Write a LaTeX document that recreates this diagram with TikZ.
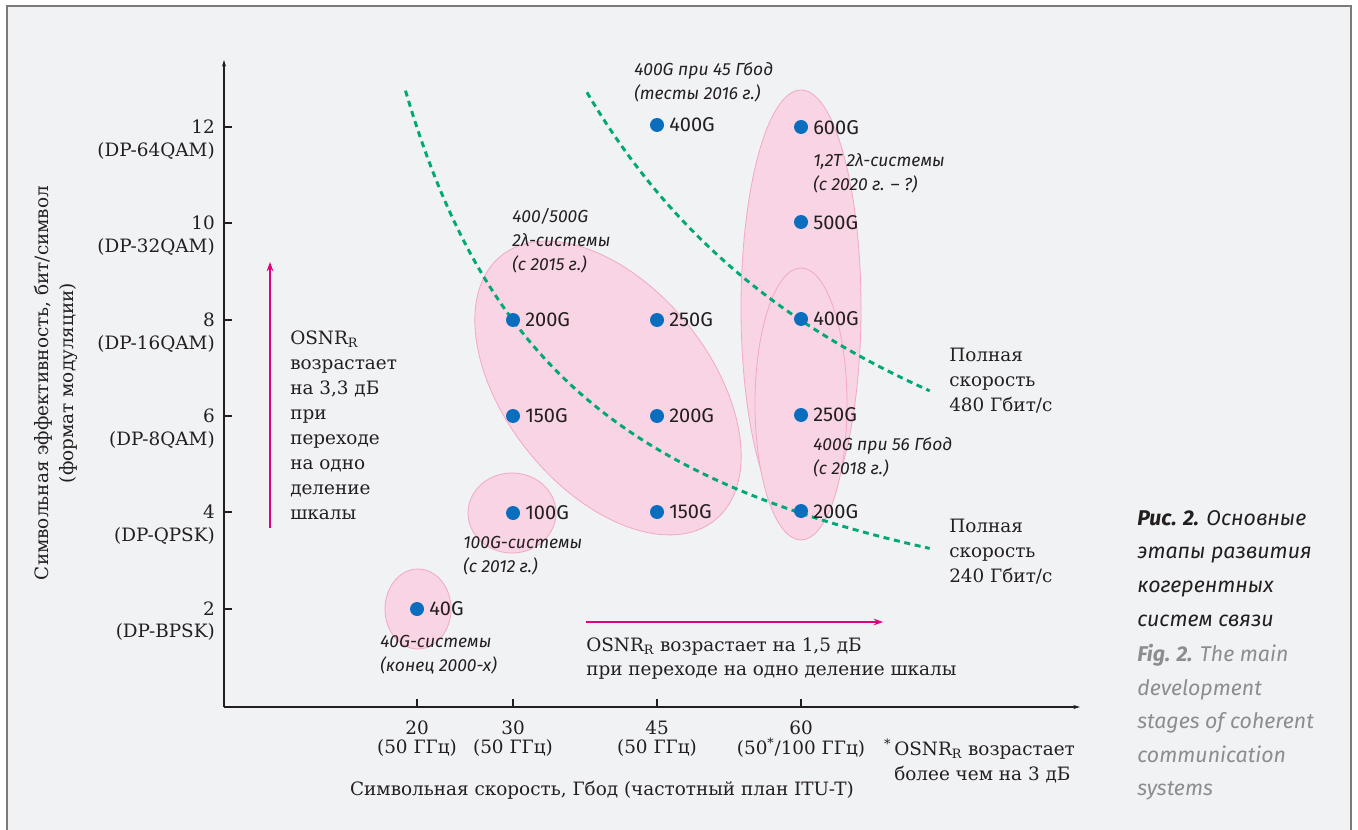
\documentclass[tikz,border=0pt]{standalone}
\usepackage{fontspec}
\setmainfont{DejaVu Serif}
\newfontfamily\lblfont{Fira Sans}
\usetikzlibrary{arrows.meta}
\definecolor{bg}{HTML}{F1F2F4}
\definecolor{framegray}{HTML}{7A7A7A}
\definecolor{pinkfill}{HTML}{F9D4E4}
\definecolor{pinkline}{HTML}{F2A7C9}
\definecolor{dotblue}{HTML}{0B6DBE}
\definecolor{ratecol}{HTML}{00A877}
\definecolor{osnrpink}{HTML}{E4007C}
\definecolor{dark}{HTML}{231F20}
\definecolor{capgray}{HTML}{8B8D8F}
\begin{document}
\begin{tikzpicture}[x=0.75pt,y=-0.75pt,
  sertxt/.style={font=\fontsize{13.8}{18.75}\selectfont, text=dark, inner sep=0pt},
  serblock/.style={sertxt, align=left, anchor=north west},
  ital/.style={font=\lblfont\itshape\fontsize{13.1}{18}\selectfont, text=dark, inner sep=0pt, align=left, anchor=north west},
  dot/.style={circle, fill=dotblue, inner sep=0pt, minimum size=10.5pt},
  dotlbl/.style={font=\lblfont\fontsize{15}{16}\selectfont, text=dark, inner sep=0pt, anchor=west},
  zone/.style={fill=pinkfill, draw=pinkline, line width=0.6pt},
  rate/.style={draw=ratecol, line width=2.2pt, dash pattern=on 4.5pt off 3.5pt},
  osnr/.style={draw=osnrpink, line width=1.1pt, -{Stealth[length=7pt,width=5pt]}},
  axisline/.style={draw=dark, line width=0.8pt},
  axistip/.style={axisline, -{Stealth[length=5pt,width=3pt]}},
  tickmark/.style={draw=dark, line width=0.8pt},
  capfont/.style={inner sep=0pt, align=left, anchor=north west, font=\lblfont\itshape\fontsize{16}{25.2}\selectfont}]
\useasboundingbox (0,0) rectangle (1358,830);
\fill[white] (0,0) rectangle (1358,830);
\draw[fill=bg, draw=framegray, line width=1pt] (7,6) rectangle (1351,850);

% zones
\draw[zone] (418,609) ellipse [x radius=33, y radius=40];
\draw[zone] (512,513) ellipse [x radius=44, y radius=40];
\draw[zone, rotate around={-51:(608,388)}] (608,388) ellipse [x radius=170, y radius=102];
\draw[zone] (801,308) ellipse [x radius=60, y radius=218];
\draw[zone] (801,404) ellipse [x radius=46, y radius=136];

% rate curves
\draw[rate] plot[domain=18.8:73.4, samples=80, smooth] ({225+9.6*\x},{706-48.2*(240/\x)});
\draw[rate] plot[domain=37.7:73.4, samples=80, smooth] ({225+9.6*\x},{706-48.2*(480/\x)});

% axes
\coordinate (O) at (224,707);
\coordinate (ytop) at (224,60);
\coordinate (xend) at (1080,707);
\draw[axistip] (O) -- (ytop);
\draw[axistip] (O) -- (xend);

% ticks
\foreach \yy in {127,223,320,416,512,609} \draw[tickmark] (224,\yy) -- ++(8,0);
\foreach \xx in {417,513,657,801} \draw[tickmark] (\xx,707) -- ++(0,-8);

\node[sertxt, anchor=east] (y12) at (215,127) {12};
\node[sertxt, anchor=east] (m12) at (215,151) {(DP-64QAM)};
\node[sertxt, anchor=east] (y10) at (215,223) {10};
\node[sertxt, anchor=east] (m10) at (215,247) {(DP-32QAM)};
\node[sertxt, anchor=east] (y8) at (215,320) {8};
\node[sertxt, anchor=east] (m8) at (215,344) {(DP-16QAM)};
\node[sertxt, anchor=east] (y6) at (215,416) {6};
\node[sertxt, anchor=east] (m6) at (215,440) {(DP-8QAM)};
\node[sertxt, anchor=east] (y4) at (215,512) {4};
\node[sertxt, anchor=east] (m4) at (215,536) {(DP-QPSK)};
\node[sertxt, anchor=east] (y2) at (215,609) {2};
\node[sertxt, anchor=east] (m2) at (215,632) {(DP-BPSK)};

\node[sertxt] (x20) at (417,728) {20};
\node[sertxt] (f20) at (417,748) {(50 ГГц)};
\node[sertxt] (x30) at (513,728) {30};
\node[sertxt] (f30) at (513,748) {(50 ГГц)};
\node[sertxt] (x45) at (657,728) {45};
\node[sertxt] (f45) at (657,748) {(50 ГГц)};
\node[sertxt] (x60) at (801,728) {60};
\node[sertxt] (f60) at (801,748) {(50\textsuperscript{*}/100 ГГц)};

\node[sertxt, align=center, rotate=90] (ylab) at (56,383) {Символьная эффективность, бит/символ\\(формат модуляции)};
\node[sertxt] (xlab) at (602,790) {Символьная скорость, Гбод (частотный план ITU-T)};
\node[serblock, align=left] (foot) at (894,739) {\llap{\textsuperscript{*}\,}OSNR\textsubscript{R} возрастает\\более чем на 3 дБ};

% OSNR arrows
\coordinate (va) at (270,528);
\coordinate (vb) at (270,262);
\draw[osnr] (va) -- (vb);
\coordinate (ha) at (586,622);
\coordinate (hb) at (883,622);
\draw[osnr] (ha) -- (hb);
\node[serblock] (osnrv) at (290,331) {OSNR\textsubscript{R}\\возрастает\\на 3,3 дБ\\при\\переходе\\на одно\\деление\\шкалы};
\node[serblock, font=\fontsize{13.8}{18}\selectfont] (osnrh) at (586,638) {OSNR\textsubscript{R} возрастает на 1,5 дБ\\при переходе на одно деление шкалы};

\node[serblock] (r480) at (949,348) {Полная\\скорость\\480 Гбит/с};
\node[serblock] (r240) at (949,519) {Полная\\скорость\\240 Гбит/с};

% italic notes
\node[ital] (n1) at (634,62) {400G при 45 Гбод\\(тесты 2016 г.)};
\node[ital] (n2) at (813,153) {1,2T 2λ-системы\\(с 2020 г. – ?)};
\node[ital] (n3) at (512,208) {400/500G\\2λ-системы\\(с 2015 г.)};
\node[ital] (n4) at (813,437) {400G при 56 Гбод\\(с 2018 г.)};
\node[ital] (n5) at (463,536) {100G-системы\\(с 2012 г.)};
\node[ital] (n6) at (380,635) {40G-системы\\(конец 2000-х)};

% dots
\node[dot] (d40) at (417,609) {};
\node[dotlbl] at (429,609) {40G};
\node[dot] (d100) at (513,513) {};
\node[dotlbl] at (525,513) {100G};
\node[dot] (d150a) at (513,416) {};
\node[dotlbl] at (525,416) {150G};
\node[dot] (d200a) at (513,320) {};
\node[dotlbl] at (525,320) {200G};
\node[dot] (d250a) at (657,320) {};
\node[dotlbl] at (669,320) {250G};
\node[dot] (d200b) at (657,416) {};
\node[dotlbl] at (669,416) {200G};
\node[dot] (d150b) at (657,512) {};
\node[dotlbl] at (669,512) {150G};
\node[dot] (d400a) at (657,125) {};
\node[dotlbl] at (669,125) {400G};
\node[dot] (d600) at (801,127) {};
\node[dotlbl] at (813,128) {600G};
\node[dot] (d500) at (801,222) {};
\node[dotlbl] at (813,223) {500G};
\node[dot] (d400b) at (801,319) {};
\node[dotlbl] at (813,319) {400G};
\node[dot] (d250b) at (801,415) {};
\node[dotlbl] at (813,415) {250G};
\node[dot] (d200c) at (801,511) {};
\node[dotlbl] at (813,512) {200G};

% caption
\node[capfont, text=dark] (capru) at (1137,510)
  {\textbf{Рис. 2.} Основные\\этапы развития\\когерентных\\систем связи};
\node[capfont, text=capgray] (capen) at (1137,644)
  {\textbf{Fig. 2.} The main\\development\\stages of coherent\\communication\\systems};
\end{tikzpicture}
\end{document}
